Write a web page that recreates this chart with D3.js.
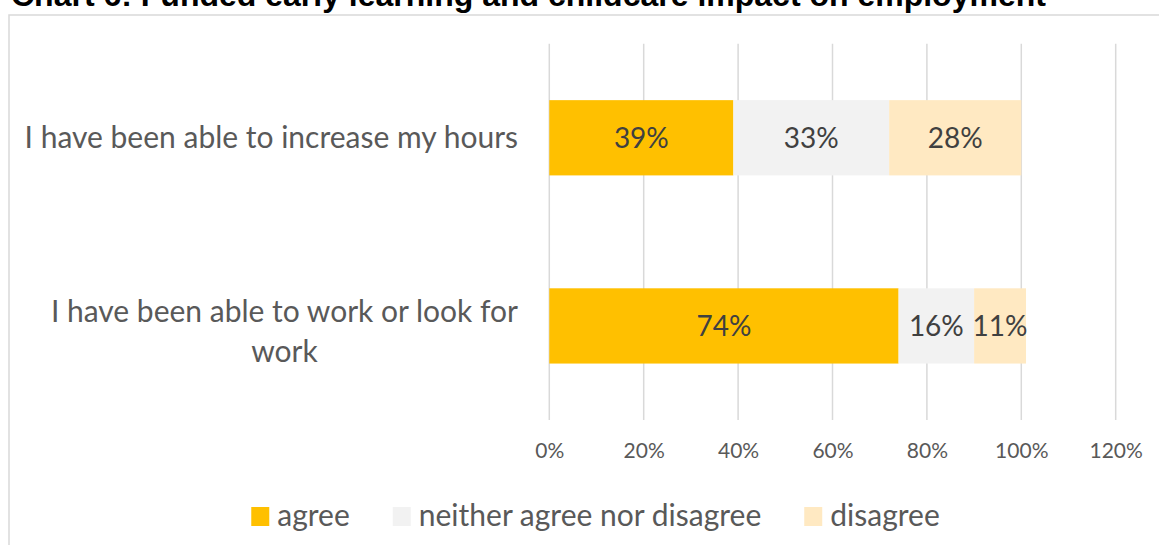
<!DOCTYPE html>
<html>
<head>
<meta charset="utf-8">
<script src="https://cdn.jsdelivr.net/npm/d3@7"></script>
<style>
  html, body { margin: 0; padding: 0; background: #fff; overflow: hidden; }
  svg { display: block; }
</style>
</head>
<body>
<svg id="chart" width="1159" height="545"></svg>
<script>
// Survey statements (top to bottom) and share of responses per answer
const categories = [
  "I have been able to increase my hours",
  "I have been able to work or look for work"
];
const seriesNames = ["agree", "neither agree nor disagree", "disagree"];
const agree   = [39, 74];
const neither = [33, 16];
const disagree = [28, 11];
const xTicks = [0, 20, 40, 60, 80, 100, 120];
const titleText = "Chart 6: Funded early learning and childcare impact on employment";

const colors = ["#FFC000", "#F2F2F2", "#FFE9C2"];
const FONT = "Lato, 'Open Sans', sans-serif";

const svg = d3.select("#chart");

// Chart frame
svg.append("rect")
  .attr("x", 9).attr("y", 15)
  .attr("width", 1220).attr("height", 620)
  .attr("fill", "#fff")
  .attr("stroke", "#D9D9D9").attr("stroke-width", 1.5);

// Title
svg.append("text")
  .attr("x", 11).attr("y", 6)
  .attr("font-family", "'Liberation Sans', Arial, sans-serif")
  .attr("font-weight", "bold")
  .attr("font-size", 32)
  .attr("fill", "#000")
  .text(titleText);

const plot = { left: 549.3, right: 1115.7, top: 43.7, bottom: 420 };

const x = d3.scaleLinear().domain([0, 120]).range([plot.left, plot.right]);
const y = d3.scaleBand().domain(categories)
  .range([plot.top, plot.bottom])
  .paddingInner(0.6).paddingOuter(0.3);

// Vertical gridlines
svg.append("g")
  .selectAll("line").data(xTicks).join("line")
  .attr("x1", d => x(d)).attr("x2", d => x(d))
  .attr("y1", plot.top).attr("y2", plot.bottom)
  .attr("stroke", "#D9D9D9").attr("stroke-width", 1.5);

// X axis tick labels
const xAxis = d3.axisBottom(x).tickValues(xTicks)
  .tickFormat(d => d + "%").tickSize(0).tickPadding(0);
const gx = svg.append("g").attr("transform", `translate(0,${plot.bottom})`).call(xAxis);
gx.select(".domain").remove();
gx.selectAll("text")
  .attr("font-family", FONT).attr("font-size", 21)
  .attr("fill", "#595959")
  .attr("dy", null).attr("y", 38);

// Stacked data
const rows = categories.map((c, i) => ({ cat: c, agree: agree[i], neither: neither[i], disagree: disagree[i] }));
const stack = d3.stack().keys(["agree", "neither", "disagree"]);
const layers = stack(rows);

const gBars = svg.append("g");
layers.forEach((layer, li) => {
  gBars.append("g").selectAll("rect").data(layer).join("rect")
    .attr("x", d => x(d[0]))
    .attr("width", d => x(d[1]) - x(d[0]))
    .attr("y", d => y(d.data.cat))
    .attr("height", y.bandwidth())
    .attr("fill", colors[li]);
  gBars.append("g").selectAll("text").data(layer).join("text")
    .attr("x", d => (x(d[0]) + x(d[1])) / 2)
    .attr("y", d => y(d.data.cat) + y.bandwidth() / 2 + 10.5)
    .attr("text-anchor", "middle")
    .attr("font-family", FONT).attr("font-size", 28)
    .attr("fill", "#404040")
    .text(d => (d[1] - d[0]) + "%");
});

// Category labels, wrapped and center-aligned within a right-aligned block
const labelRight = 518;
const wrapWidth = 510;
const lineGap = 40;
const gy = svg.append("g");
categories.forEach(cat => {
  const t = gy.append("text")
    .attr("font-family", FONT).attr("font-size", 30)
    .attr("fill", "#595959").attr("text-anchor", "middle");
  const words = cat.split(" ");
  const lines = [];
  let cur = [];
  const probe = t.append("tspan");
  words.forEach(w => {
    const test = cur.concat(w).join(" ");
    probe.text(test);
    if (probe.node().getComputedTextLength() > wrapWidth && cur.length) {
      lines.push(cur.join(" "));
      cur = [w];
    } else cur.push(w);
  });
  lines.push(cur.join(" "));
  probe.remove();
  const spans = lines.map(ln => t.append("tspan").text(ln));
  const maxW = d3.max(spans, s => s.node().getComputedTextLength());
  const cx = labelRight - maxW / 2;
  const mid = y(cat) + y.bandwidth() / 2;
  const first = mid + 10.5 - (lines.length - 1) * lineGap / 2 + (lines.length > 1 ? 5.5 : 0);
  spans.forEach((s, i) => s.attr("x", cx).attr("y", first + i * lineGap));
});

// Legend
const legend = svg.append("g");
const items = seriesNames.map((name, i) => {
  const g = legend.append("g");
  g.append("rect").attr("width", 18).attr("height", 19).attr("y", 507).attr("fill", colors[i]);
  const tx = g.append("text").attr("x", 26).attr("y", 526)
    .attr("font-family", FONT).attr("font-size", 30).attr("fill", "#595959").text(name);
  return { g, w: 26 + tx.node().getComputedTextLength() };
});
const gap = 43;
const total = d3.sum(items, d => d.w) + gap * (items.length - 1);
let lx = 595.5 - total / 2;
items.forEach(it => { it.g.attr("transform", `translate(${lx},0)`); lx += it.w + gap; });
</script>
</body>
</html>
